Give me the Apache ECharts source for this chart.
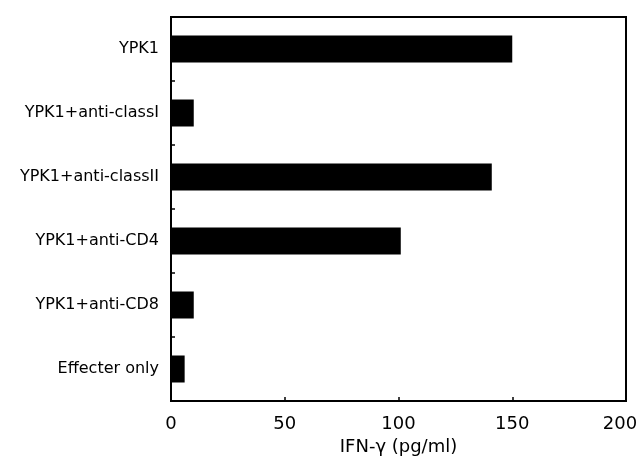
<!DOCTYPE html>
<html>
<head>
<meta charset="utf-8">
<script src="https://cdn.jsdelivr.net/npm/echarts@6/dist/echarts.min.js"></script>
<style>html,body{margin:0;padding:0;background:#fff;}#c{width:641px;height:464px;}</style>
</head>
<body>
<div id="c"></div>
<script>
const categories = ["YPK1", "YPK1+anti-classI", "YPK1+anti-classII", "YPK1+anti-CD4", "YPK1+anti-CD8", "Effecter only"];
const ifnValues = [150, 10, 141, 101, 10, 6];
const xTicks = [0, 50, 100, 150, 200];
const xTitle = "IFN-γ (pg/ml)";

const chart = echarts.init(document.getElementById('c'), null, {renderer: 'canvas'});
chart.setOption({
  animation: false,
  backgroundColor: '#fff',
  textStyle: {fontFamily: 'DejaVu Sans', color: '#000'},
  grid: {left: 171, right: 15, top: 17, bottom: 63, outerBoundsMode: 'none', containLabel: false,
         show: true, borderColor: '#000', borderWidth: 2, backgroundColor: 'transparent'},
  xAxis: {
    type: 'value', min: xTicks[0], max: xTicks[xTicks.length - 1], interval: 50,
    name: xTitle, nameLocation: 'middle', nameGap: 37,
    nameTextStyle: {fontFamily: 'DejaVu Sans', fontSize: 18, color: '#000'},
    axisLine: {show: true, lineStyle: {color: '#000', width: 2}},
    axisTick: {show: true, inside: true, length: 4, lineStyle: {color: '#000', width: 1.5}},
    axisLabel: {
      fontFamily: 'DejaVu Sans', fontSize: 18, color: '#000', margin: 14,
      formatter: function (v) { return v === xTicks[xTicks.length - 1] ? '{r|' + v + '}' : String(v); },
      rich: {r: {fontFamily: 'DejaVu Sans', fontSize: 18, color: '#000', padding: [0, 12, 0, 0]}}
    },
    splitLine: {show: false}
  },
  yAxis: {
    type: 'category', data: categories, inverse: true,
    axisLine: {show: true, lineStyle: {color: '#000', width: 2}},
    axisTick: {show: true, inside: true, length: 4, lineStyle: {color: '#000', width: 1.5}},
    axisLabel: {fontFamily: 'DejaVu Sans', fontSize: 16, color: '#000', margin: 12, padding: [6, 0, 0, 0]},
    splitLine: {show: false}
  },
  series: [{
    type: 'bar', data: ifnValues, barWidth: 27,
    itemStyle: {color: '#000'}
  }]
});
</script>
</body>
</html>
